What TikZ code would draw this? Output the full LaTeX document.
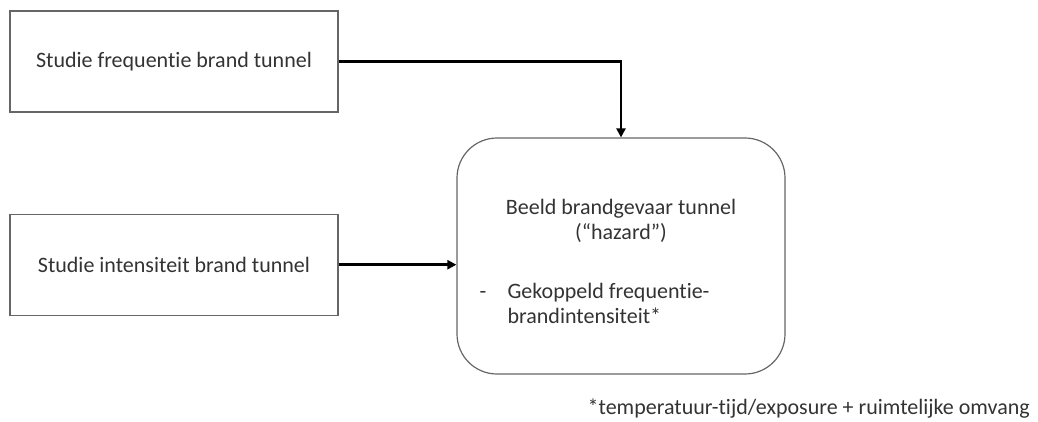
\documentclass[tikz,border=0pt]{standalone}
\usepackage{fontspec}
\setmainfont[Ligatures={NoCommon,NoRare}]{Carlito}
\usetikzlibrary{arrows.meta, positioning, calc}

\begin{document}
\begin{tikzpicture}[
    x=1pt, y=-1pt,
    font=\fontsize{22}{25}\selectfont,
    study/.style={rectangle, draw=black!60, line width=1.2pt, minimum width=328pt, minimum height=101pt, align=center, text=black!80, inner sep=0pt},
    hazardbox/.style={rectangle, draw=black!60, line width=1.2pt, rounded corners=40pt, minimum width=328pt, minimum height=236pt, inner sep=0pt},
    label/.style={text=black!80, inner sep=0pt},
    arrow/.style={-{Triangle[length=9pt, width=9pt]}, line width=2.6pt}
]
    \useasboundingbox (0,0) rectangle (1038,421);

    % Studies
    \node[study] (freq) at (174,61.5) {Studie frequentie brand tunnel};
    \node[study, below=101pt of freq] (intens) {Studie intensiteit brand tunnel};

    % Hazard picture
    \node[hazardbox] (hazard) at (621,256) {};
    \node[label, align=center, anchor=north] (title) at ($(hazard.north)+(0,62)$) {Beeld brandgevaar tunnel\\(“hazard”)};
    \node[label, align=left, anchor=north west] (item) at ($(hazard.north west)+(51,146)$) {Gekoppeld frequentie-\\brandintensiteit*};
    \node[label, anchor=north west] (dash) at ($(hazard.north west)+(23,146)$) {\vphantom{Gekoppeld}-};

    % Footnote
    \node[label, anchor=base east] (note) at (1030,414) {*temperatuur-tijd/exposure + ruimtelijke omvang};

    % Arrows
    \draw[arrow] (freq.east) -| (hazard.north);
    \draw[arrow] (intens.east) -- (intens.east -| hazard.west);

\end{tikzpicture}
\end{document}
